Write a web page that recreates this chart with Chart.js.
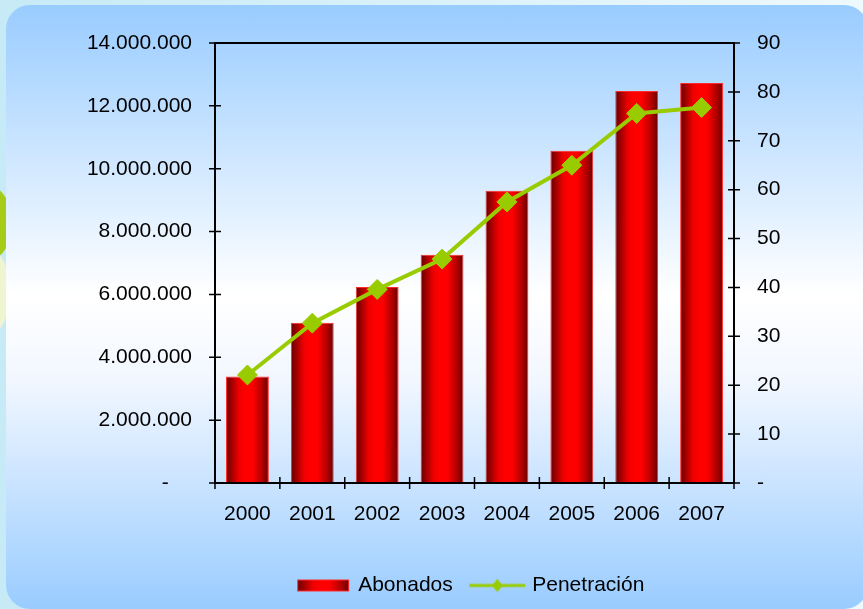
<!DOCTYPE html>
<html>
<head>
<meta charset="utf-8">
<script src="https://cdn.jsdelivr.net/npm/chart.js@4.4.0/dist/chart.umd.min.js"></script>
<style>
  html, body { margin: 0; padding: 0; }
  body {
    width: 863px; height: 609px; overflow: hidden; position: relative;
    background: linear-gradient(to right, #c6eaf6, #eef9fd);
  }
  .leaf { position: absolute; left: -34px; top: 186px; width: 46px; height: 74px; border-radius: 50%; background: #a6cc18; }
  .leaf2 { position: absolute; left: -30px; top: 250px; width: 40px; height: 84px; border-radius: 50%; background: #eef5d0; }
  .panel {
    position: absolute; left: 6px; top: 5px; width: 862px; height: 604px; border-radius: 24px;
    background: linear-gradient(to bottom, #99ccff 0%, #ffffff 48%, #f2f7ff 62%, #99ccff 100%);
  }
  canvas { position: absolute; left: 0; top: 0; }
</style>
</head>
<body>
<div class="leaf2"></div>
<div class="leaf"></div>
<div class="panel"></div>
<canvas id="grafico" width="863" height="609"></canvas>
<script>
// datos
const years = ['2000', '2001', '2002', '2003', '2004', '2005', '2006', '2007'];
const abonados = [3390000, 5100000, 6240000, 7260000, 9300000, 10570000, 12470000, 12730000];
const penetracion = [22.1, 32.7, 39.6, 45.8, 57.5, 65.0, 75.6, 76.8];
const leftTicks = [0, 2000000, 4000000, 6000000, 8000000, 10000000, 12000000, 14000000];
const rightTicks = [0, 10, 20, 30, 40, 50, 60, 70, 80, 90];

const barPct = 0.66;
const verde = '#99cc00';

Chart.defaults.font.family = '"Liberation Sans", Arial, sans-serif';
Chart.defaults.font.size = 21;
Chart.defaults.color = '#000';

function puntos(v) {
  return String(v).replace(/\B(?=(\d{3})+(?!\d))/g, '.');
}

function redStops(g) {
  g.addColorStop(0, '#660000');
  g.addColorStop(0.3, '#ee0000');
  g.addColorStop(0.45, '#ff0000');
  g.addColorStop(0.62, '#ff0000');
  g.addColorStop(0.85, '#b00000');
  g.addColorStop(1, '#660000');
  return g;
}

// degradado de cada barra
function barFill(c) {
  const chart = c.chart;
  const xs = chart.scales.x;
  if (!xs || c.dataIndex === undefined) return '#ff0000';
  const cx = xs.getPixelForValue(c.dataIndex);
  const half = xs.width / years.length * barPct / 2;
  return redStops(chart.ctx.createLinearGradient(cx - half, 0, cx + half, 0));
}

// iconos de la leyenda
function barSwatch() {
  const c = document.createElement('canvas');
  c.width = 64; c.height = 14;
  const g = c.getContext('2d');
  g.fillStyle = redStops(g.createLinearGradient(11, 0, 63, 0));
  g.fillRect(11, 1, 52, 12);
  g.strokeStyle = '#ff2a2a';
  g.lineWidth = 1;
  g.strokeRect(11.5, 1.5, 51, 11);
  return c;
}

function lineSwatch() {
  const c = document.createElement('canvas');
  c.width = 68; c.height = 16;
  const g = c.getContext('2d');
  g.strokeStyle = verde;
  g.lineWidth = 3;
  g.beginPath(); g.moveTo(11, 8); g.lineTo(67, 8); g.stroke();
  g.fillStyle = verde;
  g.beginPath();
  g.moveTo(39, 1.5); g.lineTo(44.5, 8); g.lineTo(39, 14.5); g.lineTo(33.5, 8);
  g.closePath(); g.fill();
  return c;
}

// marco y marcas cruzadas de los ejes
const marco = {
  id: 'marco',
  afterDatasetsDraw(chart) {
    const { ctx, chartArea: a, scales } = chart;
    ctx.save();
    ctx.strokeStyle = '#000';
    ctx.lineWidth = 1.5;
    ctx.beginPath();
    scales.y.ticks.forEach(t => {
      const py = scales.y.getPixelForValue(t.value);
      ctx.moveTo(a.left - 6, py); ctx.lineTo(a.left + 6, py);
    });
    scales.y1.ticks.forEach(t => {
      const py = scales.y1.getPixelForValue(t.value);
      ctx.moveTo(a.right - 6, py); ctx.lineTo(a.right + 6, py);
    });
    for (let i = 0; i <= years.length; i++) {
      const px = scales.x.getPixelForValue(i - 0.5);
      ctx.moveTo(px, a.bottom - 6); ctx.lineTo(px, a.bottom + 6);
    }
    ctx.stroke();
    ctx.lineWidth = 2;
    ctx.strokeRect(a.left, a.top, a.right - a.left, a.bottom - a.top);
    ctx.restore();
  }
};

new Chart(document.getElementById('grafico'), {
  type: 'bar',
  data: {
    labels: years,
    datasets: [{
      type: 'line',
      label: 'Penetración',
      data: penetracion,
      yAxisID: 'y1',
      borderColor: verde,
      borderWidth: 4,
      pointStyle: 'rectRot',
      pointRadius: 10,
      pointBackgroundColor: verde,
      pointBorderColor: verde,
      pointBorderWidth: 1,
      tension: 0
    }, {
      label: 'Abonados',
      data: abonados,
      yAxisID: 'y',
      backgroundColor: barFill,
      borderColor: '#ff2a2a',
      borderWidth: 1,
      categoryPercentage: 1,
      barPercentage: barPct
    }]
  },
  options: {
    responsive: false,
    animation: false,
    layout: { padding: { left: 70, right: 0, top: 43, bottom: 4 } },
    plugins: {
      tooltip: { enabled: false },
      legend: {
        position: 'bottom',
        maxHeight: 40,
        labels: {
          usePointStyle: true,
          pointStyleWidth: 59,
          padding: 10,
          color: '#000',
          generateLabels: () => [
            { text: 'Abonados', datasetIndex: 1, pointStyle: barSwatch(), hidden: false, fontColor: '#000', lineWidth: 0 },
            { text: 'Penetración', datasetIndex: 0, pointStyle: lineSwatch(), hidden: false, fontColor: '#000', lineWidth: 0 }
          ]
        }
      }
    },
    scales: {
      x: {
        grid: { display: false, drawTicks: false },
        border: { display: false },
        ticks: { padding: 19 },
        afterFit: s => { s.height = 82; }
      },
      y: {
        position: 'left',
        min: 0,
        max: 14000000,
        grid: { display: false, drawTicks: false },
        border: { display: false },
        afterBuildTicks: s => { s.ticks = leftTicks.map(v => ({ value: v })); },
        ticks: {
          padding: 23,
          callback: v => v === 0 ? '-    ' : puntos(v)
        },
        afterFit: s => { s.width = 145; }
      },
      y1: {
        position: 'right',
        min: 0,
        max: 90,
        grid: { display: false, drawTicks: false },
        border: { display: false },
        afterBuildTicks: s => { s.ticks = rightTicks.map(v => ({ value: v })); },
        ticks: {
          padding: 23,
          callback: v => v === 0 ? '-' : String(v)
        },
        afterFit: s => { s.width = 129; }
      }
    }
  },
  plugins: [marco]
});
</script>
</body>
</html>
